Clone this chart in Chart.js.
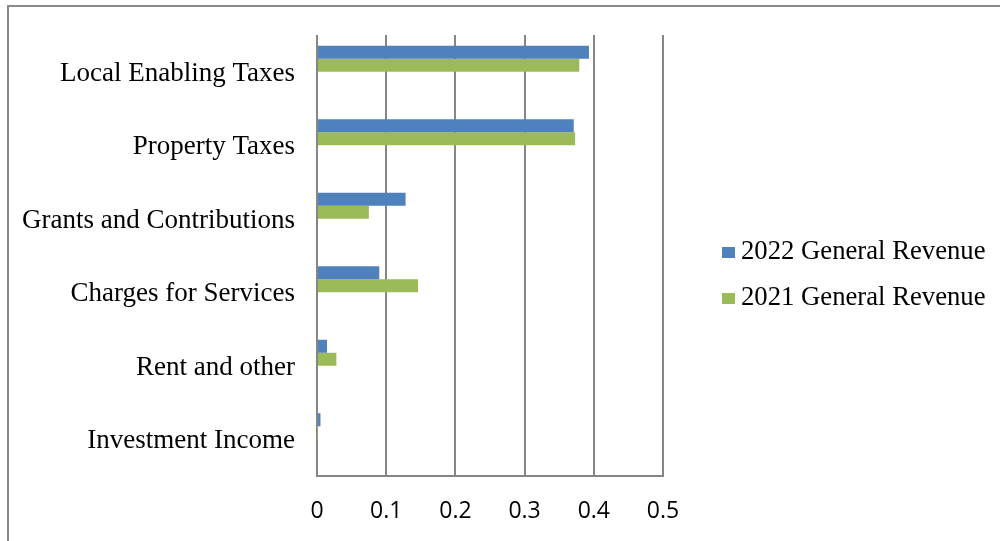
<!DOCTYPE html>
<html>
<head>
<meta charset="utf-8">
<script src="https://cdn.jsdelivr.net/npm/chart.js@4.4.1/dist/chart.umd.min.js"></script>
<style>
  html, body { margin: 0; padding: 0; background: #fff; }
  #wrap { position: relative; width: 1000px; height: 541px; overflow: hidden; }
  #frame { position: absolute; left: 7px; top: 5px; width: 1100px; height: 700px;
           border-left: 2px solid #8a8a8a; border-top: 2px solid #8a8a8a; }
  canvas { position: absolute; left: 0; top: 0; }
</style>
</head>
<body>
<div id="wrap">
  <div id="frame"></div>
  <canvas id="c" width="1000" height="541"></canvas>
</div>
<script>
const categories = ['Local Enabling Taxes', 'Property Taxes', 'Grants and Contributions',
                    'Charges for Services', 'Rent and other', 'Investment Income'];
const revenue2022 = [0.393, 0.371, 0.128, 0.090, 0.0145, 0.005];
const revenue2021 = [0.379, 0.373, 0.075, 0.146, 0.028, 0.0005];
const seriesNames = ['2022 General Revenue', '2021 General Revenue'];
const seriesColors = ['#4F81BD', '#9BBB59'];
const xTicks = [0, 0.1, 0.2, 0.3, 0.4, 0.5];
// two empty series present in the source chart (they reserve space in each group)
const emptySeriesA = [];
const emptySeriesB = [];

const serif = "'Liberation Serif', 'Times New Roman', serif";
const sans = "'Open Sans', 'Noto Sans', sans-serif";

const legendPlugin = {
  id: 'sideLegend',
  afterDraw(chart) {
    const ctx = chart.ctx;
    const ca = chart.chartArea;
    ctx.save();
    ctx.font = '26.7px ' + serif;
    ctx.textBaseline = 'alphabetic';
    let row = 0;
    chart.data.datasets.forEach(ds => {
      if (!ds.label) return;
      const base = 259 + row * 46;
      ctx.fillStyle = ds.backgroundColor;
      ctx.fillRect(ca.right + 59, base - 12, 13, 11);
      ctx.fillStyle = '#000';
      ctx.fillText(ds.label, ca.right + 78, base);
      row++;
    });
    ctx.restore();
  }
};

new Chart(document.getElementById('c'), {
  type: 'bar',
  data: {
    labels: categories,
    datasets: [
      { label: seriesNames[0], data: revenue2022, backgroundColor: seriesColors[0] },
      { label: seriesNames[1], data: revenue2021, backgroundColor: seriesColors[1] },
      { label: '', data: emptySeriesA, backgroundColor: 'transparent' },
      { label: '', data: emptySeriesB, backgroundColor: 'transparent' }
    ]
  },
  options: {
    indexAxis: 'y',
    responsive: false,
    animation: false,
    devicePixelRatio: 1,
    categoryPercentage: 0.7075,
    barPercentage: 1,
    layout: { padding: { top: 35, right: 337, left: 0, bottom: 0 } },
    plugins: { legend: { display: false }, tooltip: { enabled: false } },
    scales: {
      x: {
        min: 0, max: 0.5,
        afterBuildTicks(scale) { scale.ticks = xTicks.map(v => ({ value: v })); },
        ticks: { font: { family: sans, size: 23 }, color: '#000', padding: 22 },
        grid: { color: '#868686', lineWidth: 2, drawTicks: false },
        border: { display: true, color: '#868686', width: 2 },
        afterFit(scale) { scale.height = 541 - 476; scale.paddingLeft = 0; scale.paddingRight = 0; }
      },
      y: {
        ticks: { font: { family: serif, size: 27 }, color: '#000', padding: 22, labelOffset: 2 },
        grid: { display: false, drawTicks: false },
        border: { display: false },
        afterFit(scale) { scale.width = 317; scale.paddingTop = 0; scale.paddingBottom = 0; }
      }
    }
  },
  plugins: [legendPlugin]
});
</script>
</body>
</html>
